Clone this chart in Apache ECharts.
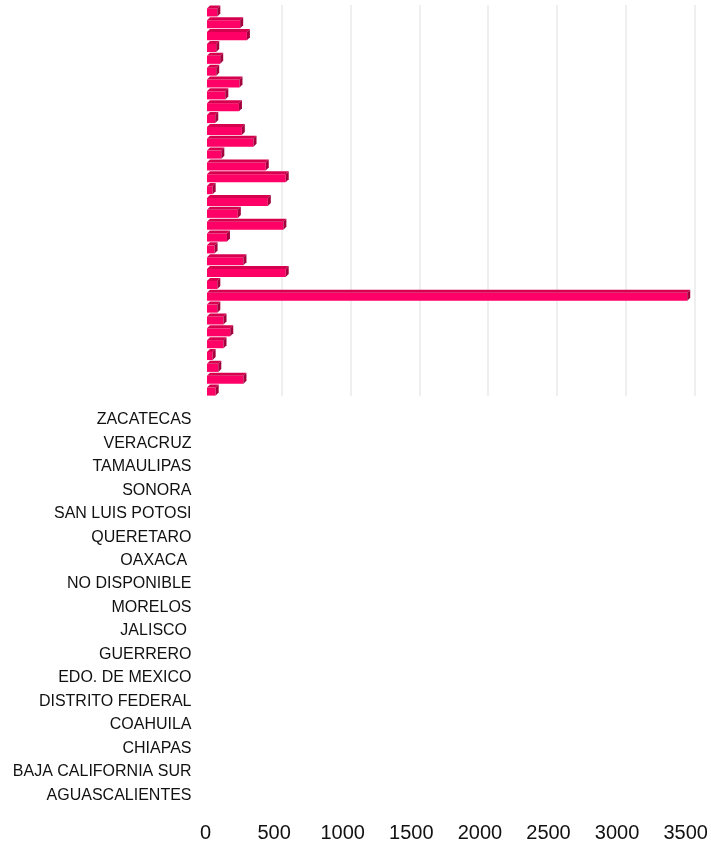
<!DOCTYPE html>
<html>
<head>
<meta charset="utf-8">
<title>chart</title>
<script src="https://cdn.jsdelivr.net/npm/echarts@6/dist/echarts.min.js"></script>
<style>
  html, body { margin: 0; padding: 0; background: #fff; }
  #chart { width: 711px; height: 846px; }
</style>
</head>
<body>
<div id="chart"></div>
<script>
// categorias (de abajo hacia arriba)
var estados = [
  "AGUASCALIENTES", "BAJA CALIFORNIA", "BAJA CALIFORNIA SUR", "CAMPECHE", "CHIAPAS",
  "CHIHUAHUA", "COAHUILA", "COLIMA", "DISTRITO FEDERAL", "DURANGO",
  "EDO. DE MEXICO", "GUANAJUATO", "GUERRERO", "HIDALGO", "JALISCO ",
  "MICHOACAN", "MORELOS", "NAYARIT", "NO DISPONIBLE", "NUEVO LEON",
  "OAXACA ", "PUEBLA", "QUERETARO", "QUINTANA ROO", "SAN LUIS POTOSI",
  "SINALOA", "SONORA", "TABASCO", "TAMAULIPAS", "TLAXCALA",
  "VERACRUZ", "YUCATAN", "ZACATECAS"
];
var totales = [
  63, 265, 82, 41, 120,
  169, 120, 75, 3490, 75,
  572, 265, 55, 145, 555,
  224, 442, 41, 572, 427,
  104, 338, 253, 60, 232,
  133, 236, 67, 96, 67,
  290, 241, 75
];
var ejeMin = 0;
var ejeMax = 3500;
var ejePaso = 500;

var chart = echarts.init(document.getElementById("chart"));

var datos = totales.map(function (v, i) {
  return [v, i];
});

// barra con efecto 3d: cara frontal, superior y lateral
function dibujarBarra(params, api) {
  var ini = api.coord([0, api.value(1)]);
  var fin = api.coord([api.value(0), api.value(1)]);
  var banda = api.size([0, 1])[1];
  var h = banda * 0.68;
  var d = 3;
  var corr = 6;
  var x0 = ini[0] - corr;
  var x1 = fin[0] - corr;
  var yTop = ini[1] - (h + d) / 2 + d;
  return {
    type: "group",
    children: [
      {
        type: "rect",
        shape: { x: x0, y: yTop, width: x1 - x0, height: h },
        style: { fill: "#ff0066" }
      },
      {
        type: "polygon",
        shape: { points: [[x0, yTop], [x0 + d, yTop - d], [x1 + d, yTop - d], [x1, yTop]] },
        style: { fill: "#d6004f" }
      },
      {
        type: "polygon",
        shape: { points: [[x1, yTop], [x1 + d, yTop - d], [x1 + d, yTop + h - d], [x1, yTop + h]] },
        style: { fill: "#a3003d" }
      }
    ]
  };
}

chart.setOption({
  animation: false,
  grid: [
    // barras
    { left: 213, top: 5, width: 481.6, height: 391 },
    // etiquetas
    { left: 205.5, top: 414, width: 480.2, height: 387 }
  ],
  xAxis: [
    {
      gridIndex: 0,
      type: "value",
      min: ejeMin,
      max: ejeMax,
      interval: ejePaso,
      axisLabel: { show: false },
      axisLine: { show: false },
      axisTick: { show: false },
      splitLine: {
        show: true,
        showMinLine: false,
        lineStyle: { color: "#efefef", width: 2 }
      }
    },
    {
      gridIndex: 1,
      type: "value",
      min: ejeMin,
      max: ejeMax,
      interval: ejePaso,
      axisLine: { show: false },
      axisTick: { show: false },
      splitLine: { show: false },
      axisLabel: {
        margin: 22,
        fontSize: 20,
        fontFamily: "Liberation Sans, Arial, sans-serif",
        color: "#111",
        formatter: function (v) { return String(v); }
      }
    }
  ],
  yAxis: [
    {
      gridIndex: 0,
      type: "category",
      data: estados,
      axisLabel: { show: false },
      axisLine: { show: false },
      axisTick: { show: false },
      splitLine: { show: false }
    },
    {
      gridIndex: 1,
      type: "category",
      data: estados,
      axisLine: { show: false },
      axisTick: { show: false },
      splitLine: { show: false },
      axisLabel: {
        interval: 1,
        margin: 14,
        fontSize: 16,
        fontFamily: "Liberation Sans, Arial, sans-serif",
        color: "#111"
      }
    }
  ],
  series: [
    {
      name: "Total",
      type: "custom",
      xAxisIndex: 0,
      yAxisIndex: 0,
      renderItem: dibujarBarra,
      encode: { x: 0, y: 1 },
      data: datos
    }
  ]
});
</script>
</body>
</html>
